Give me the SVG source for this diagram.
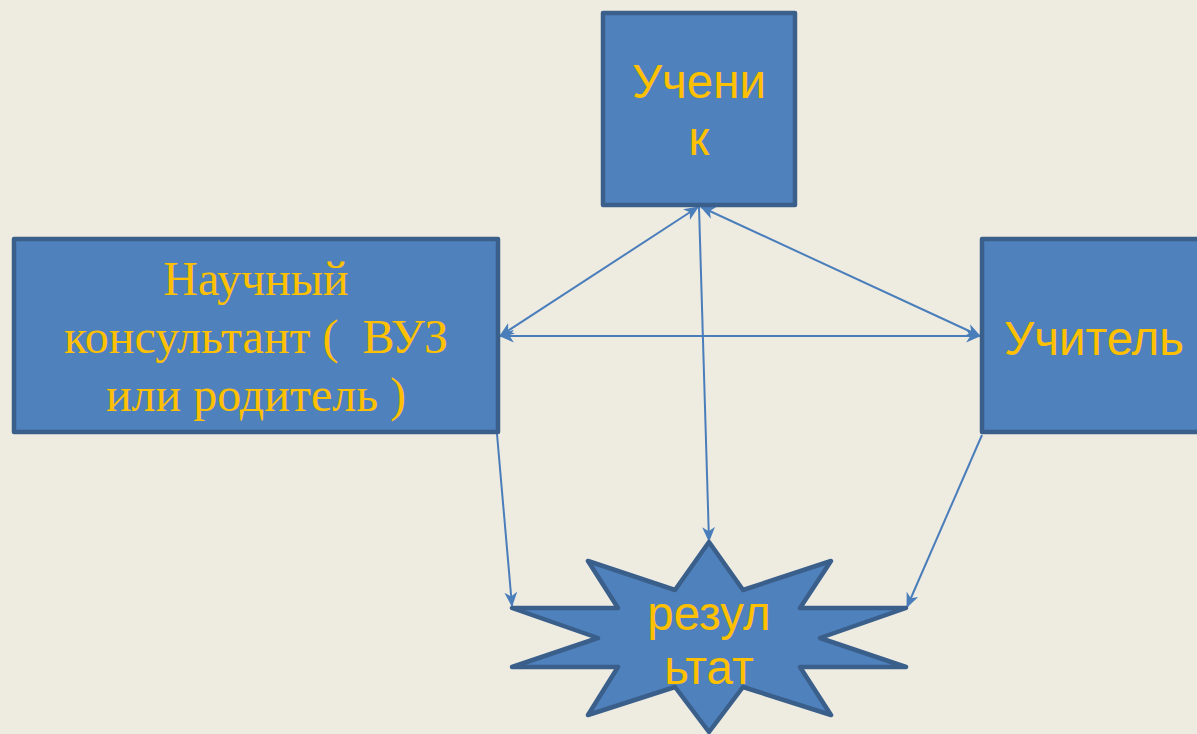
<svg xmlns="http://www.w3.org/2000/svg" width="1197" height="734" viewBox="0 0 1197 734">
<style>
.box{fill:#4F81BD;stroke:#3A5F8B;stroke-width:4.5;stroke-linejoin:round}
.ss{font-family:"Liberation Sans",Arial,sans-serif;font-size:47.5px;fill:#FFC000;text-anchor:middle}
.sf{font-family:"Liberation Serif","Times New Roman",serif;font-size:48px;fill:#FFC000;text-anchor:middle}
.ln{stroke:#4A7EBB;stroke-width:2;fill:none}
</style>
<defs>
<marker id="ah" viewBox="0 0 14 12" refX="13" refY="6" markerWidth="15" markerHeight="13" markerUnits="userSpaceOnUse" orient="auto-start-reverse">
<path d="M0,0 L14,6 L0,12 L4,6 Z" fill="#4A7EBB"/>
</marker>
</defs>
<rect width="1197" height="734" fill="#EEEBE1"/>
<g id="connectors">
<line class="ln" x1="698" y1="207" x2="500" y2="336" marker-start="url(#ah)" marker-end="url(#ah)"/>
<line class="ln" x1="701" y1="207" x2="980" y2="336" marker-start="url(#ah)" marker-end="url(#ah)"/>
<line class="ln" x1="500" y1="336" x2="980" y2="336" marker-start="url(#ah)" marker-end="url(#ah)"/>
<line class="ln" x1="699" y1="207" x2="709" y2="541" marker-end="url(#ah)"/>
<line class="ln" x1="497" y1="434" x2="512" y2="606" marker-end="url(#ah)"/>
<line class="ln" x1="982" y1="435" x2="907" y2="607" marker-end="url(#ah)"/>
</g>
<g id="uchenik">
<rect class="box" x="603" y="13" width="192" height="192"/>
<text class="ss" x="699" y="98">Учени</text>
<text class="ss" x="699" y="155">к</text>
</g>
<g id="konsultant">
<rect class="box" x="14" y="239" width="484" height="193"/>
<text class="sf" x="256" y="295">Научный</text>
<text class="sf" x="256" y="353" xml:space="preserve">консультант (  ВУЗ</text>
<text class="sf" x="256" y="411">или родитель )</text>
</g>
<g id="uchitel">
<rect class="box" x="982" y="239" width="230" height="193"/>
<text class="ss" x="1094" y="355">Учитель</text>
</g>
<g id="rezultat">
<polygon class="box" points="709,542 743,590 831,561 800,608 906,608 820,638 906,667 800,667 831,715 743,687 709,732 675,687 588,715 618,667 512,667 598,638 512,608 618,608 588,561 675,590"/>
<text class="ss" x="709" y="630">резул</text>
<text class="ss" x="709" y="684">ьтат</text>
</g>
</svg>
